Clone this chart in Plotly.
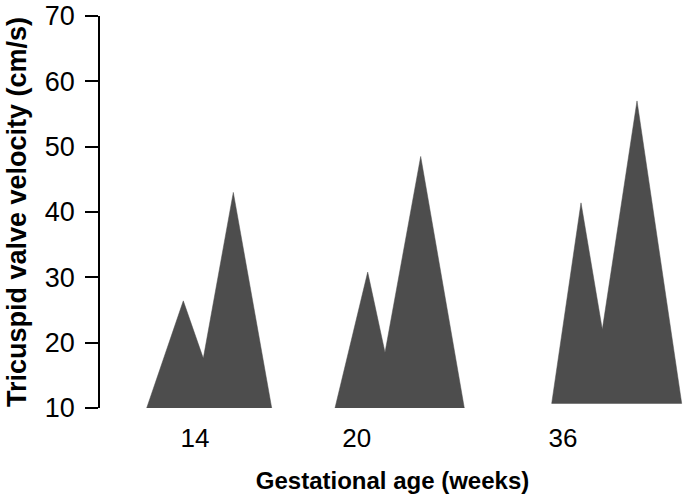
import plotly.graph_objects as go

# ---- data ----
ages = ["14", "20", "36"]                 # gestational age (weeks)
baseline = [10.0, 10.0, 10.7]             # cm/s, start/end of each waveform
e_peak = [26.4, 30.8, 41.4]               # E-wave peak velocity (cm/s)
trough = [17.6, 18.5, 22.0]               # E/A nadir (cm/s)
a_peak = [43.0, 48.5, 57.0]               # A-wave peak velocity (cm/s)

# ---- layout positions (horizontal placement of each waveform, plot units) ----
group_start = [46.7, 235.0, 451.7]
e_offset = [36.6, 32.7, 29.3]
trough_offset = [56.6, 50.0, 50.6]
a_offset = [86.6, 85.7, 85.3]
end_offset = [125.0, 129.3, 130.0]
label_pos = [95.0, 256.7, 463.0]

FILL = "#4d4d4d"
FONT = "Liberation Sans, Arial, Helvetica, sans-serif"

fig = go.Figure()
for i in range(len(ages)):
    s = group_start[i]
    xs = [s, s + e_offset[i], s + trough_offset[i], s + a_offset[i], s + end_offset[i], s]
    ys = [baseline[i], e_peak[i], trough[i], a_peak[i], baseline[i], baseline[i]]
    fig.add_trace(go.Scatter(
        x=xs, y=ys, mode="lines", fill="toself",
        fillcolor=FILL, line=dict(color=FILL, width=0.5),
        hoverinfo="skip", showlegend=False,
    ))

fig.update_layout(
    width=685, height=498,
    margin=dict(l=100, r=0, t=16, b=90),
    paper_bgcolor="white", plot_bgcolor="white",
    font=dict(family=FONT, color="black"),
    showlegend=False,
)
fig.update_xaxes(
    range=[0, 585], showgrid=False, zeroline=False, showline=False,
    tickmode="array", tickvals=label_pos, ticktext=ages, ticks="",
    tickfont=dict(size=26), ticklabelstandoff=12,
    title=dict(text="<b>Gestational age (weeks)</b>", font=dict(size=24), standoff=20),
)
fig.update_yaxes(
    range=[10, 70], showgrid=False, zeroline=False,
    showline=True, linecolor="black", linewidth=1.5,
    ticks="outside", ticklen=13, tickwidth=1.5, tickcolor="black",
    tickvals=[10, 20, 30, 40, 50, 60, 70],
    tickfont=dict(size=27), ticklabelstandoff=5,
    title=dict(text="<b>Tricuspid valve velocity (cm/s)</b>", font=dict(size=27), standoff=10),
)

fig.write_html("out.html", config={"displayModeBar": False},
               post_script="document.body.style.margin='0';")
